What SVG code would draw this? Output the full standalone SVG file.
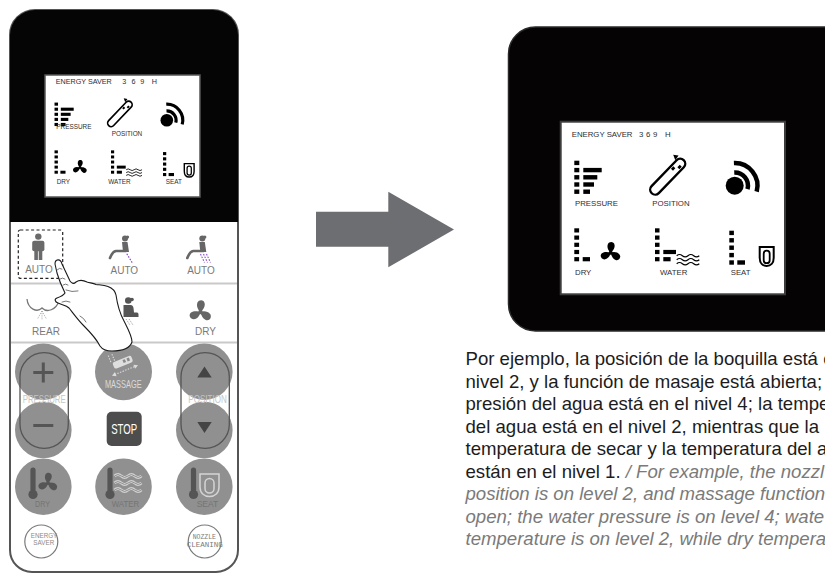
<svg xmlns="http://www.w3.org/2000/svg" width="825" height="573" viewBox="0 0 825 573">
<style>
  text { font-family: "Liberation Sans", Arial, sans-serif; }
  .lcdt { fill: #2e2e2e; }
  .lbl { fill: #7a7a7a; font-size: 10px; text-anchor: middle; }
  .btn { fill: #909090; }
  .cap { fill: none; stroke: #555; stroke-width: 1.3; }
  .faint { fill: #c6c6c6; font-size: 10px; text-anchor: middle; }
  .inbtn { fill: #757575; font-size: 9px; text-anchor: middle; }
  .ring { fill: #fff; stroke: #7a7a7a; stroke-width: 1.2; }
  .tiny { fill: #8a8a8a; font-size: 6.3px; text-anchor: middle; }
  .mono { font-family: "Liberation Mono", "DejaVu Sans Mono", monospace; fill: #7a7a7a; font-size: 7px; text-anchor: middle; }
  .es { fill: #1c1c1c; font-size: 18.6px; }
  .en { fill: #7a7a7a; font-style: italic; }
  .hand { fill: #fff; stroke: #1a1a1a; stroke-width: 1.1; stroke-linejoin: round; stroke-linecap: round; }
  .crease { fill: none; stroke: #555; stroke-width: 0.8; stroke-linecap: round; }
</style>
<defs>
  <!-- one propeller blade, pointing up -->
  <path id="blade" d="M0,0 C-2.5,-2 -4.5,-6 -3,-9.5 C-1.5,-12.5 3.5,-12.5 4.2,-8.5 C4.8,-5 2,-1.8 0,0 Z"/>
  <g id="fan">
    <use href="#blade"/>
    <use href="#blade" transform="rotate(120)"/>
    <use href="#blade" transform="rotate(240)"/>
    <circle r="2.2"/>
  </g>
  <!-- thermometer, origin at bulb centre -->
  <g id="thermo">
    <rect x="-2.6" y="-27" width="5.2" height="25" rx="2.6"/>
    <circle r="4.6"/>
  </g>
  <!-- LCD pictograms, in screen-local units (224 x 173) -->
  <g id="lcd-icons" fill="#000">
    <!-- pressure: level 4 -->
    <rect x="13.6" y="39" width="5" height="4.4"/>
    <rect x="13.6" y="46.2" width="5" height="4.4"/>
    <rect x="13.6" y="53.4" width="5" height="4.4"/>
    <rect x="13.6" y="60.6" width="5" height="4.4"/>
    <rect x="13.6" y="67.8" width="5" height="4.4"/>
    <rect x="22.6" y="46.2" width="18.4" height="4.4"/>
    <rect x="22.6" y="53.4" width="14" height="4.4"/>
    <rect x="22.6" y="60.6" width="10.7" height="4.4"/>
    <rect x="22.6" y="67.8" width="6.7" height="4.4"/>
    <!-- nozzle position -->
    <g transform="translate(107,55) rotate(-46)">
      <rect x="-23" y="-5" width="46" height="10" rx="5" fill="none" stroke="#000" stroke-width="2.4"/>
      <rect x="8" y="-3.2" width="3.4" height="2.8"/>
      <rect x="13.5" y="0.4" width="3.4" height="2.8"/>
    </g>
    <polygon points="112.5,33 117.8,33.8 114.6,38.6"/>
    <!-- massage signal -->
    <circle cx="174" cy="64" r="9"/>
    <path d="M173.54,50.76 A13.25,13.25 0 0 1 186.8,67.43 M173.2,41.26 A22.75,22.75 0 0 1 195.97,69.89" fill="none" stroke="#000" stroke-width="4.5"/>
    <!-- dry: level 1 -->
    <rect x="13.6" y="106.6" width="4.8" height="4.2"/>
    <rect x="13.6" y="113.8" width="4.8" height="4.2"/>
    <rect x="13.6" y="121" width="4.8" height="4.2"/>
    <rect x="13.6" y="128.2" width="4.8" height="4.2"/>
    <rect x="13.6" y="135.4" width="4.8" height="4.2"/>
    <rect x="22" y="135.4" width="7.3" height="4.2"/>
    <use href="#fan" transform="translate(50,131) scale(0.92)"/>
    <!-- water: level 2 -->
    <rect x="94.3" y="106.6" width="4.5" height="4.2"/>
    <rect x="94.3" y="113.8" width="4.5" height="4.2"/>
    <rect x="94.3" y="121" width="4.5" height="4.2"/>
    <rect x="94.3" y="128.2" width="4.5" height="4.2"/>
    <rect x="94.3" y="135.4" width="4.5" height="4.2"/>
    <rect x="102.6" y="128.2" width="12.7" height="4.2"/>
    <rect x="102.6" y="135.4" width="7.3" height="4.2"/>
    <path d="M116,134 q2.8,-2.4 5.65,0 t5.65,0 t5.65,0 t5.65,0 M116,138 q2.8,-2.4 5.65,0 t5.65,0 t5.65,0 t5.65,0 M116,142 q2.8,-2.4 5.65,0 t5.65,0 t5.65,0 t5.65,0" fill="none" stroke="#000" stroke-width="1.2"/>
    <!-- seat: level 1 -->
    <rect x="168.6" y="109" width="4.6" height="4.4"/>
    <rect x="168.6" y="116.4" width="4.6" height="4.4"/>
    <rect x="168.6" y="123.8" width="4.6" height="4.4"/>
    <rect x="168.6" y="131.2" width="4.6" height="4.4"/>
    <rect x="168.6" y="138.6" width="4.6" height="4.4"/>
    <rect x="176.6" y="138.6" width="7.7" height="4.4"/>
    <path d="M199,125.3 H213 V136 C213,141.5 210,144.3 206,144.3 C202,144.3 199,141.5 199,136 Z" fill="none" stroke="#000" stroke-width="2"/>
    <rect x="203" y="129" width="6" height="12.5" rx="3" fill="none" stroke="#000" stroke-width="1.8"/>
  </g>
  <!-- reclining seated figure, origin at head -->
  <g id="recline" fill="#666">
    <circle r="3"/>
    <circle cx="2.6" cy="-1.6" r="1.5"/>
    <path d="M-3,3.5 L2.5,3.5 L4,13.5 L-2,13.5 Z"/>
    <path d="M1,12.5 L-9,12.5 Q-12.5,13 -15,19.5" fill="none" stroke="#666" stroke-width="2.6" stroke-linecap="round"/>
  </g>
</defs>

<!-- remote control -->
<g id="remote">
  <path d="M35,10 H213 A25,25 0 0 1 238,35 V550 A22,22 0 0 1 216,572 H32 A22,22 0 0 1 10,550 V35 A25,25 0 0 1 35,10 Z" fill="#fff" stroke="#555" stroke-width="2"/>
  <path d="M35,10 H213 A25,25 0 0 1 238,35 V222 H10 V35 A25,25 0 0 1 35,10 Z" fill="#050505"/>
  <line x1="11" y1="283.5" x2="237" y2="283.5" stroke="#c9c9c9" stroke-width="2"/>
  <line x1="11" y1="342.5" x2="237" y2="342.5" stroke="#c9c9c9" stroke-width="2"/>
</g>

<!-- small LCD on the remote -->
<g id="lcd-small">
  <rect x="45" y="75" width="155" height="122" fill="#fff" stroke="#555" stroke-width="1.5"/>
  <use href="#lcd-icons" transform="translate(45,75) scale(0.7,0.707)"/>
  <g class="lcdt" font-size="7.2">
    <text x="55.7" y="84">ENERGY SAVER</text>
    <text x="122.3" y="84">3</text>
    <text x="131.5" y="84">6</text>
    <text x="140.3" y="84">9</text>
    <text x="151.7" y="84">H</text>
  </g>
  <g class="lcdt" font-size="6.4">
    <text x="56.3" y="128.7">PRESSURE</text>
    <text x="111.7" y="135.7">POSITION</text>
    <text x="56.7" y="184">DRY</text>
    <text x="108.3" y="184">WATER</text>
    <text x="165.7" y="184">SEAT</text>
  </g>
</g>

<!-- touch keys: wash modes -->
<g id="key-auto-stand">
  <rect x="18.3" y="230" width="44.4" height="48.3" rx="2" fill="none" stroke="#222" stroke-width="1.2" stroke-dasharray="3,2.4"/>
  <g fill="#6a6a6a">
    <circle cx="38.3" cy="236.6" r="3.2"/>
    <rect x="32.2" y="240.8" width="12.2" height="10.5" rx="2"/>
    <rect x="34.3" y="250" width="3.6" height="10"/>
    <rect x="38.7" y="250" width="3.6" height="10"/>
  </g>
  <text class="lbl" x="39" y="273">AUTO</text>
</g>
<g id="key-auto-rear">
  <use href="#recline" transform="translate(125,238.5)"/>
  <line x1="126.8" y1="253.8" x2="132.3" y2="262.8" stroke="#8a4fc7" stroke-width="1.2" stroke-dasharray="1.6,1.3"/>
  <text class="lbl" x="124.3" y="273.7">AUTO</text>
</g>
<g id="key-auto-front">
  <use href="#recline" transform="translate(202.3,238.5)"/>
  <g stroke="#8a4fc7" stroke-width="1.1" stroke-dasharray="1.6,1.3">
    <line x1="200.5" y1="254" x2="204.5" y2="262.5"/>
    <line x1="203.5" y1="254" x2="207.5" y2="262.5"/>
    <line x1="206.5" y1="254" x2="210.5" y2="262.5"/>
  </g>
  <text class="lbl" x="201" y="273.7">AUTO</text>
</g>
<g id="key-rear">
  <path d="M27,299 C28,309 37,313 42,308 C47,313 56,310 59,301 C62,300 66,301 70,299" fill="none" stroke="#777" stroke-width="1.3"/>
  <g stroke="#999" stroke-width="0.9" stroke-dasharray="1,1.2">
    <line x1="42" y1="311" x2="37.5" y2="319"/>
    <line x1="42" y1="311" x2="42" y2="320"/>
    <line x1="42" y1="311" x2="46.5" y2="319"/>
  </g>
  <text class="lbl" x="46" y="335">REAR</text>
</g>
<g id="key-front">
  <g fill="#555">
    <circle cx="128.3" cy="300.5" r="3.3"/>
    <circle cx="132" cy="299.5" r="1.8"/>
    <path d="M123.5,305 H130.5 Q133,305 133.5,308 L134,312.5 H137 Q138.5,312.5 138.5,314.5 V317 H123.5 Z"/>
  </g>
  <g stroke="#888" stroke-width="0.9" stroke-dasharray="1,1.2">
    <line x1="126" y1="319" x2="130" y2="325"/>
    <line x1="129" y1="319" x2="133" y2="325"/>
  </g>
</g>
<g id="key-dry">
  <use href="#fan" fill="#666" transform="translate(200.5,312)"/>
  <text class="lbl" x="205.5" y="335">DRY</text>
</g>

<!-- round keys -->
<g id="key-pressure">
  <circle class="btn" cx="43.3" cy="371.7" r="28.3"/>
  <circle class="btn" cx="43.3" cy="430" r="28.3"/>
  <rect class="cap" x="20" y="352.7" width="48.3" height="95.6" rx="24"/>
  <path d="M33.3,372.5 H53.3 M43.3,362.5 V382.5 M33.3,425.5 H53.3" stroke="#555" stroke-width="3" fill="none"/>
  <text class="faint" x="44.2" y="403.3" textLength="43" lengthAdjust="spacingAndGlyphs">PRESSURE</text>
</g>
<g id="key-massage">
  <circle class="btn" cx="123.5" cy="371.7" r="28.5"/>
  <g transform="translate(122,363) rotate(-22)">
    <rect x="-9" y="-4" width="20" height="7" rx="2" fill="#dedede"/>
    <rect x="1.5" y="-2.5" width="2.6" height="3.2" fill="#8a8a8a"/>
    <rect x="5.8" y="-2.5" width="2.6" height="3.2" fill="#8a8a8a"/>
    <g stroke="#dcdcdc" stroke-width="1.1" stroke-dasharray="1.4,1.4" fill="none">
      <line x1="-11" y1="8" x2="11" y2="8"/>
      <line x1="-6" y1="-5" x2="-6" y2="-13"/>
      <line x1="-10" y1="-5" x2="-10" y2="-13"/>
    </g>
    <polygon points="-14,8 -10,5.8 -10,10.2" fill="#dcdcdc"/>
    <polygon points="14,8 10,5.8 10,10.2" fill="#dcdcdc"/>
  </g>
  <text x="123.3" y="388.3" fill="#dadada" font-size="11" text-anchor="middle" textLength="36.7" lengthAdjust="spacingAndGlyphs">MASSAGE</text>
</g>
<g id="key-stop">
  <rect x="106.7" y="411.7" width="35" height="34.3" rx="5" fill="#4d4d4d"/>
  <text x="124.2" y="434" fill="#fff" font-size="14" text-anchor="middle" textLength="26" lengthAdjust="spacingAndGlyphs">STOP</text>
</g>
<g id="key-position">
  <circle class="btn" cx="204.3" cy="371.7" r="28.3"/>
  <circle class="btn" cx="204.3" cy="430" r="28.3"/>
  <rect class="cap" x="181" y="352.7" width="48.3" height="95.6" rx="24"/>
  <polygon points="204.5,366.5 211.7,377.5 197.3,377.5" fill="#444"/>
  <polygon points="197.3,422 211.7,422 204.5,433" fill="#444"/>
  <text class="faint" x="207.5" y="403.3" textLength="38.4" lengthAdjust="spacingAndGlyphs">POSITION</text>
</g>
<g id="key-dry-temp">
  <circle class="btn" cx="43.3" cy="486.7" r="28.3"/>
  <use href="#thermo" fill="#555" transform="translate(33,494.5)"/>
  <use href="#fan" fill="#555" transform="translate(48,483) scale(0.88)"/>
  <text class="inbtn" x="42.5" y="507" textLength="15" lengthAdjust="spacingAndGlyphs">DRY</text>
</g>
<g id="key-water-temp">
  <circle class="btn" cx="123.5" cy="486.7" r="28.3"/>
  <use href="#thermo" fill="#555" transform="translate(110,494.5)"/>
  <path d="M114.5,476 q3.4,-3 6.75,0 t6.75,0 t6.75,0 t6.75,0 M114.5,483 q3.4,-3 6.75,0 t6.75,0 t6.75,0 t6.75,0 M114.5,490 q3.4,-3 6.75,0 t6.75,0 t6.75,0 t6.75,0" fill="none" stroke="#d2d2d2" stroke-width="3"/>
  <path d="M114.5,476 q3.4,-3 6.75,0 t6.75,0 t6.75,0 t6.75,0 M114.5,483 q3.4,-3 6.75,0 t6.75,0 t6.75,0 t6.75,0 M114.5,490 q3.4,-3 6.75,0 t6.75,0 t6.75,0 t6.75,0" fill="none" stroke="#909090" stroke-width="1"/>
  <text class="inbtn" x="125.5" y="507" textLength="27.7" lengthAdjust="spacingAndGlyphs">WATER</text>
</g>
<g id="key-seat-temp">
  <circle class="btn" cx="204.3" cy="486.7" r="28.3"/>
  <use href="#thermo" fill="#555" transform="translate(193.5,494.5)"/>
  <path d="M200,474 H219 V487 C219,493 215,496.5 209.5,496.5 C204,496.5 200,493 200,487 Z" fill="none" stroke="#d4d4d4" stroke-width="1.5"/>
  <rect x="205" y="478.5" width="9" height="14.5" rx="4.5" fill="none" stroke="#d4d4d4" stroke-width="1.5"/>
  <text class="inbtn" x="207.5" y="507" textLength="21.7" lengthAdjust="spacingAndGlyphs">SEAT</text>
</g>
<g id="key-energy-saver">
  <circle class="ring" cx="41.3" cy="541.5" r="16.5"/>
  <text class="tiny" x="44" y="538.3">ENERGY</text>
  <text class="tiny" x="43.8" y="545.3">SAVER</text>
</g>
<g id="key-nozzle-cleaning">
  <circle class="ring" cx="204.7" cy="541.5" r="16.5"/>
  <text class="mono" x="204.3" y="539" textLength="23.3" lengthAdjust="spacingAndGlyphs">NOZZLE</text>
  <text class="mono" x="204.7" y="546.7" textLength="36" lengthAdjust="spacingAndGlyphs">CLEANING</text>
</g>

<!-- pointing hand -->
<g id="hand">
  <path class="hand" d="M55,264 C55,259 60.5,258 62,264 L70,281 C72,284 74,284 76,282 C79,280 83,280 87,282 C90,283 93,283 96,284.5 C100,285 104,285 108,286.5 C112,288 115,290 116,295 C117,302 119,312 124,321 C128,329 132,336 132,342 C130,348 122,351 112,351 C106,351 102,349 100,346 C96,338 90,332 84,326 C78,320 73,313 69,308 C66,305 62,305 58,303 C55,302 54,299 57,298 C60,297 63,296 65,293 C62,287 59,280 57,273 Z"/>
  <path class="crease" d="M57,270 Q59.5,267 62,269 M60,279 Q62.5,277 65,279 M63,285 Q65.5,283 68,285 M66,290 Q72,292.5 78,291 M62,302 Q66,300 70,302 M80,316 Q84,318 86,322"/>
</g>

<!-- transition arrow -->
<g id="connectors">
  <polygon points="316,211.7 388.3,211.7 388.3,191.7 454,229.5 388.3,267.3 388.3,246.7 316,246.7" fill="#6d6e71"/>
</g>

<!-- enlarged display -->
<g id="lcd-large">
  <rect x="508.5" y="27" width="360" height="304" rx="27" fill="#050304" stroke="#2a2a2a" stroke-width="1.5"/>
  <rect x="560.7" y="121.7" width="224.3" height="172.6" fill="#fff" stroke="#3c3c3c" stroke-width="2"/>
  <use href="#lcd-icons" transform="translate(560.7,121.7)"/>
  <g class="lcdt" font-size="7.8">
    <text x="571.7" y="137.3">ENERGY SAVER</text>
    <text x="639" y="137.3">3</text>
    <text x="646" y="137.3">6</text>
    <text x="653" y="137.3">9</text>
    <text x="665" y="137.3">H</text>
    <text x="575" y="205.7">PRESSURE</text>
    <text x="652.3" y="205.7">POSITION</text>
    <text x="575" y="275">DRY</text>
    <text x="660" y="275">WATER</text>
    <text x="730.7" y="275">SEAT</text>
  </g>
</g>

<!-- caption, running off the right edge -->
<g id="caption" class="es">
  <text x="465.5" y="365">Por ejemplo, la posición de la boquilla está e</text>
  <text x="465.5" y="387.5">nivel 2, y la función de masaje está abierta;</text>
  <text x="465.5" y="410">presión del agua está en el nivel 4; la tempe</text>
  <text x="465.5" y="432.5">del agua está en el nivel 2, mientras que la</text>
  <text x="465.5" y="455">temperatura de secar y la temperatura del a</text>
  <text x="465.5" y="477.5">están en el nivel 1. <tspan class="en">/ For example, the nozzl</tspan></text>
  <text x="465.5" y="500" class="en">position is on level 2, and massage function</text>
  <text x="465.5" y="522.5" class="en">open; the water pressure is on level 4; wate</text>
  <text x="465.5" y="545" class="en">temperature is on level 2, while dry tempera</text>
</g>
</svg>
